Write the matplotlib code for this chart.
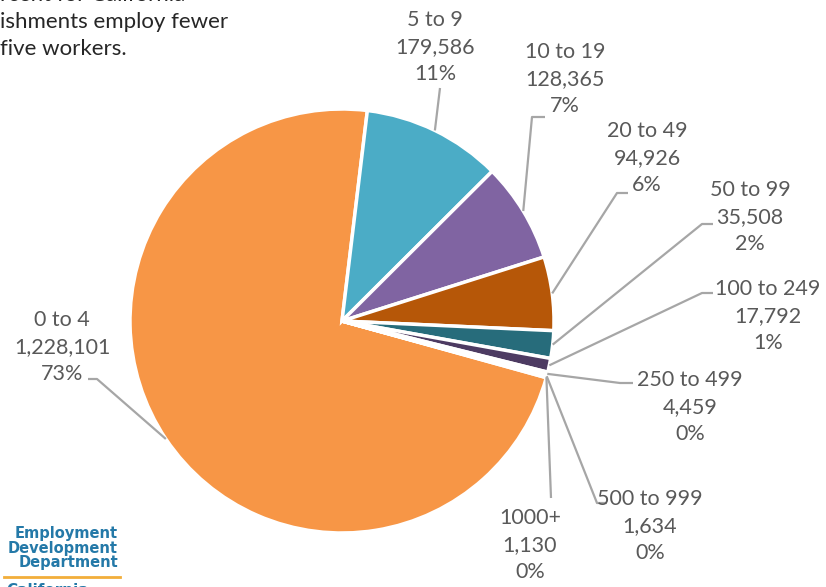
import numpy as np
import matplotlib
matplotlib.use("Agg")
import matplotlib.pyplot as plt

plt.rcParams['font.family'] = ['Lato', 'DejaVu Sans']

# establishment size classes (workers) and counts
sizes = ['0 to 4', '5 to 9', '10 to 19', '20 to 49', '50 to 99',
         '100 to 249', '250 to 499', '500 to 999', '1000+']
counts = [1228101, 179586, 128365, 94926, 35508, 17792, 4459, 1634, 1130]
pct_labels = ['73%', '11%', '7%', '6%', '2%', '1%', '0%', '0%', '0%']
colors = ['#F79646', '#4BACC6', '#8064A2', '#B65708', '#276C7B',
          '#4D3B62', '#974806', '#215968', '#3F3151']

# label layout in pixel coords (x, y of middle line) and leader bends
W, H = 826, 587
label_pos = [(62, 347), (435, 47), (565, 79), (647, 158), (750, 217),
             (768, 316), (690, 407), (650, 526), (530, 545)]
leader_bends = [[(97, 379), (88, 379)],
                [(440, 88)],
                [(532, 117), (545, 117)],
                [(617, 193), (628, 193)],
                [(702, 224), (713, 224)],
                [(702, 293), (713, 293)],
                [(620, 383), (633, 383)],
                [(597, 503), (607, 503)],
                [(551, 498)]]

fig = plt.figure(figsize=(W / 100, H / 100), dpi=100)
ax = fig.add_axes([0, 0, 1, 1])

cx, cy, R = 342, H - 321, 212
wedges, _ = ax.pie(counts, colors=colors, center=(cx, cy), radius=R,
                   startangle=-15.5, counterclock=False, frame=True,
                   wedgeprops=dict(edgecolor='white', linewidth=2.5))
ax.set_xlim(0, W)
ax.set_ylim(0, H)
ax.set_aspect('equal')
ax.axis('off')

for w, name, n, p, (lx, ly), bends in zip(wedges, sizes, counts, pct_labels,
                                          label_pos, leader_bends):
    mid = np.deg2rad((w.theta1 + w.theta2) / 2)
    ax0 = cx + R * np.cos(mid)
    ay0 = cy + R * np.sin(mid)
    xs = [ax0] + [b[0] for b in bends]
    ys = [ay0] + [H - b[1] for b in bends]
    ax.plot(xs, ys, color='#A6A6A6', lw=1.6, solid_capstyle='butt')
    ax.text(lx, H - ly, '{}\n{:,}\n{}'.format(name, n, p), ha='center',
            va='center', fontsize=15.5, color='#595959', linespacing=1.42)

# cut-off note in the top-left corner
fig.text(0, (H - 22) / H,
         'rcent for California\nishments employ fewer\nfive workers.',
         ha='left', va='center', fontsize=16, color='#262626',
         linespacing=1.42)

# EDD logo
fig.text(118 / W, (H - 548) / H, 'Employment\nDevelopment\nDepartment',
         ha='right', va='center', fontsize=10.5, fontweight='bold',
         family='DejaVu Sans', color='#2479A8', linespacing=0.98)
fig.add_artist(plt.Line2D([4 / W, 120 / W], [(H - 577) / H] * 2,
                          color='#F2AE3A', lw=2))
fig.text(6 / W, (H - 583) / H, 'California', ha='left', va='top',
         fontsize=11, fontweight='bold', family='DejaVu Sans',
         color='#2479A8')

fig.savefig('out.png', dpi=100)
